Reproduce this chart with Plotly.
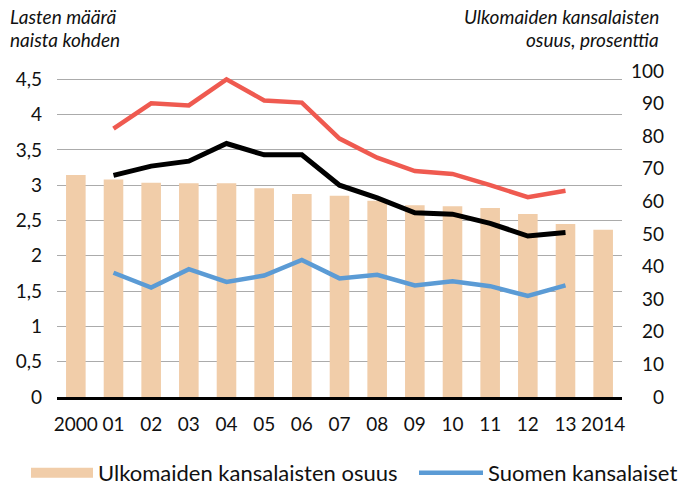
import plotly.graph_objects as go

categories = ["2000", "01", "02", "03", "04", "05", "06", "07", "08", "09", "10", "11", "12", "13", "2014"]

# Share of foreign citizens (%), right axis
foreign_share = [68.1, 66.7, 65.7, 65.6, 65.6, 64.0, 62.3, 61.7, 60.2, 58.8, 58.5, 58.0, 56.1, 53.1, 51.3]

# Children per woman (left axis)
line_red = [None, 3.80, 4.16, 4.13, 4.50, 4.20, 4.17, 3.66, 3.39, 3.20, 3.16, 3.00, 2.83, 2.92, None]
line_black = [None, 3.14, 3.27, 3.34, 3.59, 3.43, 3.43, 3.00, 2.82, 2.61, 2.59, 2.46, 2.28, 2.33, None]
finnish_citizens = [None, 1.76, 1.55, 1.81, 1.63, 1.72, 1.94, 1.68, 1.73, 1.58, 1.64, 1.57, 1.43, 1.58, None]

left_tickvals = [0, 0.5, 1, 1.5, 2, 2.5, 3, 3.5, 4, 4.5]
left_ticktext = ["0", "0,5", "1", "1,5", "2", "2,5", "3", "3,5", "4", "4,5"]
right_tickvals = [0, 10, 20, 30, 40, 50, 60, 70, 80, 90, 100]
right_ticktext = ["0", "10", "20", "30", "40", "50", "60", "70", "80", "90", "100"]

name_bar = "Ulkomaiden kansalaisten osuus"
name_blue = "Suomen kansalaiset"

BAR = "#F1CDA9"
RED = "#EF5A50"
BLUE = "#5B9BD5"
FONT = "Lato"

W, H = 684, 486
ML, MR, MT, MB = 57, 10, 71, 89
pw = W - ML - MR
plot_right = 622
xdom = (plot_right - ML) / pw

fig = go.Figure()

fig.add_trace(go.Bar(x=categories, y=foreign_share, marker=dict(color=BAR, line=dict(width=0)),
                     yaxis="y", showlegend=False, hoverinfo="y"))
fig.add_trace(go.Scatter(x=[None], y=[None], mode="lines", name=name_bar,
                         line=dict(color=BAR, width=13), yaxis="y", legend="legend"))

fig.add_trace(go.Scatter(x=categories, y=line_red, mode="lines", line=dict(color=RED, width=4.5),
                         yaxis="y2", showlegend=False))
fig.add_trace(go.Scatter(x=categories, y=line_black, mode="lines", line=dict(color="#000000", width=5),
                         yaxis="y2", showlegend=False))
fig.add_trace(go.Scatter(x=categories, y=finnish_citizens, mode="lines", name=name_blue,
                         line=dict(color=BLUE, width=4.5), yaxis="y2", legend="legend2"))

left_max = 4.5 * 326.5 / 318.2

leg_common = dict(orientation="h", xref="container", yref="container", y=1 - 473 / H,
                  xanchor="left", yanchor="middle",
                  font=dict(size=22, family=FONT, color="#111111"),
                  bgcolor="rgba(0,0,0,0)")

fig.update_layout(
    width=W, height=H,
    margin=dict(l=ML, r=MR, t=MT, b=MB, autoexpand=False),
    paper_bgcolor="white", plot_bgcolor="white",
    font=dict(family=FONT, size=19, color="#111111"),
    bargap=0.48,
    showlegend=True,
    legend=dict(leg_common, x=26 / W, itemwidth=62),
    legend2=dict(leg_common, x=414 / W, itemwidth=64),
    xaxis=dict(type="category", domain=[0, xdom], range=[-0.5, 14.5], automargin=False,
               tickmode="array", tickvals=categories, ticktext=categories,
               showgrid=False, showline=True, linecolor="#000000", linewidth=2.5,
               ticks="", ticklabelstandoff=8, tickfont=dict(size=19), fixedrange=True),
    yaxis=dict(range=[0, 100], side="left", anchor="free", position=(664 - ML) / pw,
               automargin=False,
               tickmode="array", tickvals=right_tickvals, ticktext=right_ticktext,
               showgrid=False, zeroline=False, showline=False, ticks="",
               tickfont=dict(size=19)),
    yaxis2=dict(range=[0, left_max], overlaying="y", side="left", anchor="x", automargin=False,
                tickmode="array", tickvals=left_tickvals, ticktext=left_ticktext,
                showgrid=True, gridcolor="#ABABAB", gridwidth=1.2, zeroline=False,
                showline=False, ticks="", ticklabelstandoff=14, tickfont=dict(size=19)),
)

def px_x(px):
    return (px - ML) / pw

def px_y(py):
    return (H - MB - py) / (H - MT - MB)

tfont = dict(family=FONT, size=19, color="#111111", style="italic")
for txt, xx, yy, anc in [
    ("Lasten määrä", 8, 16.5, "left"),
    ("naista kohden", 8, 39.5, "left"),
    ("Ulkomaiden kansalaisten", 661, 16.5, "right"),
    ("osuus, prosenttia", 661, 39.5, "right"),
]:
    fig.add_annotation(text=txt, x=px_x(xx), y=px_y(yy), xref="paper", yref="paper",
                       xanchor=anc, yanchor="middle", showarrow=False, font=tfont)

fig.write_html("out.html", config={"displayModeBar": False},
               post_script="document.body.style.margin='0';")
